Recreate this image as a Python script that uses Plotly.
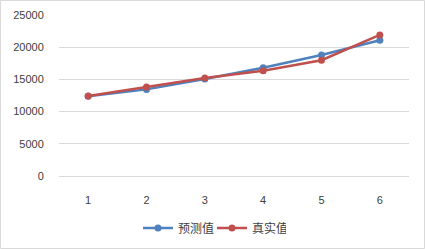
import plotly.graph_objects as go

categories = ["1", "2", "3", "4", "5", "6"]
predicted = [12400, 13450, 15050, 16820, 18790, 21070]
actual = [12420, 13830, 15200, 16350, 17970, 21900]
y_ticks = [0, 5000, 10000, 15000, 20000, 25000]
y_tick_labels = ["0", "5000", "10000", "15000", "20000", "25000"]

blue = "#4F81BD"
red = "#C0504D"
text_color = "#404040"

fig = go.Figure()
fig.add_trace(go.Scatter(x=categories, y=predicted, name="预测值", mode="lines+markers",
                         line=dict(color=blue, width=2.5), marker=dict(size=7, color=blue)))
fig.add_trace(go.Scatter(x=categories, y=actual, name="真实值", mode="lines+markers",
                         line=dict(color=red, width=2.5), marker=dict(size=7, color=red)))

W, H = 425, 249
L, R, T, B = 59, 16, 15, 73
pw, ph = W - L - R, H - T - B

fig.update_layout(
    template="none",
    width=W, height=H,
    margin=dict(l=L, r=R, t=T, b=B, autoexpand=False),
    paper_bgcolor="white", plot_bgcolor="white",
    font=dict(family="Liberation Sans, Arial, sans-serif", size=11, color=text_color),
    showlegend=True,
    legend=dict(orientation="h", x=(138 - L) / pw, xanchor="left", y=(176 - 228) / ph, yanchor="middle",
                font=dict(family="Noto Sans CJK SC", size=12, color=text_color),
                entrywidth=29, entrywidthmode="pixels",
                itemwidth=30, tracegroupgap=0, bgcolor="rgba(0,0,0,0)"),
    xaxis=dict(type="category", range=[-0.5, 5.5], showgrid=False, zeroline=False,
               showline=False, ticks="outside", ticklen=14, tickcolor="rgba(0,0,0,0)",
               tickfont=dict(size=11, color=text_color), automargin=False),
    yaxis=dict(range=[0, 25000], tickvals=y_ticks, ticktext=y_tick_labels,
               showgrid=True, gridcolor="#D9D9D9", gridwidth=1,
               zeroline=True, zerolinecolor="#D9D9D9", zerolinewidth=1,
               showline=False, ticks="outside", ticklen=12,
               tickcolor="rgba(0,0,0,0)", tickfont=dict(size=11, color=text_color), automargin=False),
)

fig.add_shape(type="rect", xref="paper", yref="paper",
              x0=(0.5 - L) / pw, x1=(W - 0.5 - L) / pw,
              y0=(H - B - (H - 0.5)) / ph, y1=(H - B - 0.5) / ph,
              line=dict(color="#D9D9D9", width=1), layer="above")

fig.write_html("out.html", config={"displayModeBar": False},
               post_script="document.body.style.margin='0';document.body.style.overflow='hidden';")
